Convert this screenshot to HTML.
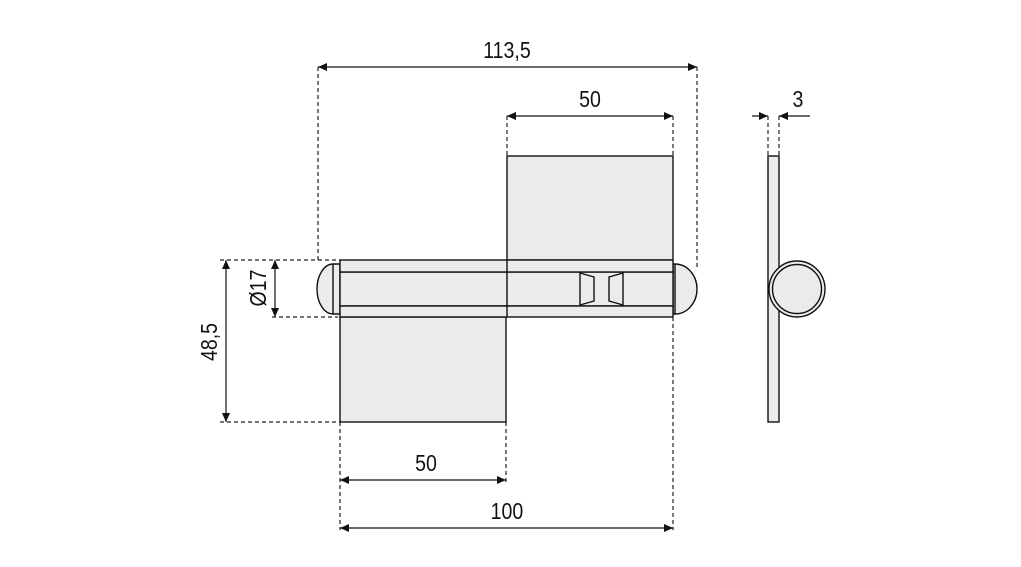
<!DOCTYPE html>
<html><head><meta charset="utf-8"><style>
html,body{margin:0;padding:0;background:#fff;}
svg{display:block;}
text{font-family:"Liberation Sans",sans-serif;font-size:23px;fill:#111;}
</style></head><body>
<svg width="1021" height="567" viewBox="0 0 1021 567" xmlns="http://www.w3.org/2000/svg">
<defs>
<marker id="a" markerWidth="10" markerHeight="8" refX="9" refY="4" orient="auto-start-reverse" markerUnits="userSpaceOnUse">
<path d="M0,0 L9,4 L0,8 Z" fill="#111"/></marker>
</defs>
<g stroke="#222" stroke-width="1.2" stroke-dasharray="4,3" fill="none">
<line x1="318" y1="67" x2="318" y2="262"/>
<line x1="697" y1="67" x2="697" y2="270"/>
<line x1="507" y1="116" x2="507" y2="156"/>
<line x1="673" y1="116" x2="673" y2="156"/>
<line x1="340" y1="422" x2="340" y2="530"/>
<line x1="506" y1="422" x2="506" y2="482"/>
<line x1="673" y1="317" x2="673" y2="530"/>
<line x1="220" y1="260" x2="340" y2="260"/>
<line x1="220" y1="422" x2="340" y2="422"/>
<line x1="272" y1="317" x2="338" y2="317"/>
<line x1="768" y1="116" x2="768" y2="156"/>
<line x1="779" y1="116" x2="779" y2="156"/>
</g>
<g stroke="#111" stroke-width="1.2" fill="none">
<line x1="318" y1="67" x2="697" y2="67" marker-start="url(#a)" marker-end="url(#a)"/>
<line x1="507" y1="116" x2="673" y2="116" marker-start="url(#a)" marker-end="url(#a)"/>
<line x1="340" y1="480" x2="506" y2="480" marker-start="url(#a)" marker-end="url(#a)"/>
<line x1="340" y1="528" x2="673" y2="528" marker-start="url(#a)" marker-end="url(#a)"/>
<line x1="226" y1="260" x2="226" y2="422" marker-start="url(#a)" marker-end="url(#a)"/>
<line x1="275" y1="260" x2="275" y2="317" marker-start="url(#a)" marker-end="url(#a)"/>
<line x1="752" y1="116" x2="768" y2="116" marker-end="url(#a)"/>
<line x1="810" y1="116" x2="779" y2="116" marker-end="url(#a)"/>
</g>
<g stroke="#111" stroke-width="1.4" fill="#ebebeb">
<rect x="507" y="156" width="166" height="104"/>
<rect x="340" y="317" width="166" height="105"/>
<path d="M333,264 A16,25 0 0 0 333,314 L340,314 L340,264 Z"/>
<path d="M675,264 A22,25 0 0 1 675,314 L673,314 L673,264 Z"/>
<rect x="340" y="272" width="333" height="34"/>
<line x1="333" y1="264" x2="333" y2="314"/>
<line x1="675" y1="264" x2="675" y2="314"/>
<rect x="340" y="260" width="333" height="12"/>
<rect x="340" y="306" width="333" height="11"/>
<line x1="507" y1="260" x2="507" y2="317"/>
<path d="M580,273 L594,277 L594,301 L580,305 Z"/>
<path d="M623,273 L609,277 L609,301 L623,305 Z"/>
<rect x="768" y="156" width="11" height="266"/>
<circle cx="797" cy="289" r="28"/>
<circle cx="797" cy="289" r="24.5"/>
</g>
<text x="507" y="58" text-anchor="middle" transform="translate(507 0) scale(0.85 1) translate(-507 0)">113,5</text>
<text x="590" y="107" text-anchor="middle" transform="translate(590 0) scale(0.85 1) translate(-590 0)">50</text>
<text x="798" y="107" text-anchor="middle" transform="translate(798 0) scale(0.85 1) translate(-798 0)">3</text>
<text x="426" y="471" text-anchor="middle" transform="translate(426 0) scale(0.85 1) translate(-426 0)">50</text>
<text x="507" y="519" text-anchor="middle" transform="translate(507 0) scale(0.85 1) translate(-507 0)">100</text>
<text transform="translate(217 342) rotate(-90) scale(0.85 1)" text-anchor="middle">48,5</text>
<text transform="translate(266 288) rotate(-90) scale(0.85 1)" text-anchor="middle">Ø17</text>
</svg>
</body></html>
